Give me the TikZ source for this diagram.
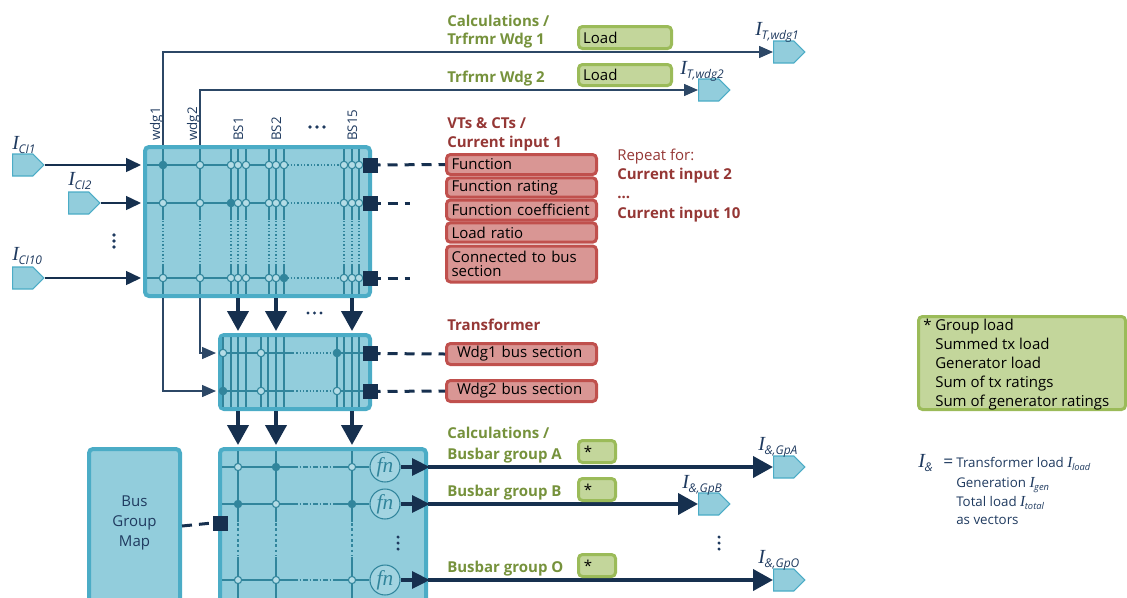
\documentclass[tikz,border=0pt]{standalone}
\usepackage{fontspec}
\setmainfont{Open Sans}
\newfontfamily\serifI{Liberation Serif}
\usetikzlibrary{arrows.meta,shapes.symbols}
\definecolor{navy}{HTML}{16304F}
\definecolor{thinc}{HTML}{2C4766}
\definecolor{boxfill}{HTML}{92CDDC}
\definecolor{boxedge}{HTML}{4BACC6}
\definecolor{gridc}{HTML}{31859C}
\definecolor{redfill}{HTML}{D99694}
\definecolor{rededge}{HTML}{C0504D}
\definecolor{redtext}{HTML}{953735}
\definecolor{grnfill}{HTML}{C3D69B}
\definecolor{grnedge}{HTML}{9BBB59}
\definecolor{grntext}{HTML}{76923C}
\definecolor{symc}{HTML}{1F3A5F}
\newcommand{\fmain}{\fontsize{11.25pt}{13.5pt}\selectfont}
\newcommand{\fsmall}{\fontsize{10pt}{12pt}\selectfont}
\newcommand{\fsym}{\fontsize{15pt}{16pt}\selectfont}
\newcommand{\Icur}[2][9pt]{{\serifI\itshape I}\kern-0.3pt\raisebox{-0.4ex}{\fontsize{#1}{#1}\selectfont\itshape #2}}
\begin{document}
\begin{tikzpicture}[x=0.75pt,y=-0.75pt,
  mbox/.style={draw=boxedge, fill=boxfill, line width=3pt, rounded corners=3pt, inner sep=0pt},
  redbox/.style={draw=rededge, fill=redfill, line width=2.25pt, rounded corners=3pt, inner xsep=3.75pt, inner ysep=0pt, text width=105pt, align=left, font=\fmain, text=black, minimum width=112.5pt},
  redbox2/.style={redbox, inner xsep=7.9pt, text width=96.7pt},
  grnbox/.style={draw=grnedge, fill=grnfill, line width=2.25pt, rounded corners=3pt, inner ysep=0pt, align=left, font=\fmain, text=black},
  lbl/.style={anchor=base west, inner sep=0pt, font=\fmain, text=black},
  hg/.style={lbl, font=\fmain\bfseries, text=grntext},
  hr/.style={lbl, font=\fmain\bfseries, text=redtext},
  isym/.style={anchor=base west, inner sep=0pt, font=\fsym, text=symc},
  rot/.style={anchor=base west, inner sep=0pt, rotate=90, font=\fsmall, text=symc},
  flag/.style={shape=signal, signal to=east, signal pointer angle=90, fill=boxfill, draw=boxedge, line width=0.8pt, inner sep=0pt, minimum width=23.5pt, minimum height=16.5pt},
  sq/.style={fill=navy, minimum size=11.25pt, inner sep=0pt},
  dsh/.style={navy, line width=2.25pt, dash pattern=on 7.5pt off 5.25pt},
  inarr/.style={navy, line width=1.1pt, -{Triangle[length=11.25pt,width=10.5pt]}, shorten >=1.5pt},
  tarr/.style={thinc, line width=1.1pt, -{Triangle[length=10.5pt,width=9pt]}},
  bigarr/.style={navy, line width=3pt, -{Triangle[length=15pt,width=15.75pt]}},
  midarr/.style={navy, line width=3pt, -{Triangle[length=13.5pt,width=12.5pt]}},
  gl/.style={gridc, line width=1.1pt},
  gl3/.style={gridc, line width=1.6pt},
  ocirc/.style={draw=gridc, fill=boxfill!70!white, line width=0.8pt},
  fnc/.style={circle, draw=gridc, fill=boxfill!85!white, line width=0.8pt, minimum size=22.5pt, inner sep=0pt, text=gridc, font=\serifI\itshape\fontsize{16pt}{16pt}\selectfont}
]
\path[use as bounding box] (0,0) rectangle (1127,597);
\clip (0,0) rectangle (1127,597);

% ---------- main boxes
\node[mbox, minimum width=168.75pt, minimum height=111.75pt] (box1) at (257.5,221.5) {};
\node[mbox, minimum width=112.5pt, minimum height=55.5pt] (box2) at (295,372) {};
\node[mbox, minimum width=154.5pt, minimum height=115.5pt] (box3) at (323,526) {};
\node[mbox, minimum width=68.25pt, minimum height=115.5pt] (bgm) at (134.5,526) {};
\node[align=center, font=\fontsize{11.25pt}{15pt}\selectfont, text=symc, inner sep=0pt] (bgmt) at (134.5,523) {Bus\\Group\\Map};

% ---------- grid of box 1
\begin{scope}[gl]
\foreach \y in {165,203,278}{
  \draw (147,\y) -- (284,\y);
  \draw[dash pattern=on 1pt off 1.5pt] (284,\y) -- (344,\y);
  \draw (344,\y) -- (368,\y);}
\foreach \x in {163,200,231,238,246,269,276,284,344,352,359}{
  \draw (\x,149) -- (\x,220);
  \draw[dash pattern=on 1pt off 1.5pt] (\x,221) -- (\x,264);
  \draw (\x,264) -- (\x,294);}
\end{scope}
\foreach \y in {165,203,278}{\foreach \x in {163,200,231,238,246,269,276,284,344,352,359}{
  \draw[ocirc] (\x,\y) circle[radius=2.8pt];}}
\fill[gridc] (163,165) circle[radius=2.9pt] (231,203) circle[radius=2.9pt] (284,278) circle[radius=2.9pt];

% ---------- grid of box 2
\begin{scope}[gl]
\foreach \y in {353,391}{
  \draw (222,\y) -- (293,\y);
  \draw[dash pattern=on 1pt off 1.5pt] (293,\y) -- (333,\y);
  \draw (333,\y) -- (368,\y);}
\foreach \x in {223,231,238,246,261,268,276,284,337,344,352,359}{
  \draw (\x,337) -- (\x,407);}
\end{scope}
\foreach \y in {353,391}{\foreach \x in {223,261,337}{
  \draw[ocirc] (\x,\y) circle[radius=2.8pt];}}
\fill[gridc] (337,353) circle[radius=2.9pt] (223,391) circle[radius=2.9pt];

% ---------- grid of box 3
\node[fnc] (fn1) at (385,467) {fn};
\node[fnc] (fn2) at (385,504) {fn};
\node[fnc] (fn3) at (385,580) {fn};
\begin{scope}[gl3]
\foreach \y/\f in {467/fn1,504/fn2,580/fn3}{
  \draw (222,\y) -- (293,\y);
  \draw[dash pattern=on 3.5pt off 1.5pt on 1pt off 1.5pt] (293,\y) -- (333,\y);
  \draw (333,\y) -- (\f.west);}
\foreach \x in {238,276,352}{
  \draw (\x,451) -- (\x,522);
  \draw[dash pattern=on 2pt off 2pt] (\x,523) -- (\x,556);
  \draw (\x,557) -- (\x,600);}
\end{scope}
\foreach \y in {467,504,580}{\foreach \x in {238,276,352}{
  \draw[ocirc] (\x,\y) circle[radius=2.7pt];}}
\fill[gridc] (276,467) circle[radius=2.9pt] (238,504) circle[radius=2.9pt] (352,504) circle[radius=2.9pt];

% ---------- flags
\node[flag, anchor=west] (fCI1) at (12,165) {};
\node[flag, anchor=west] (fCI2) at (68,203) {};
\node[flag, anchor=west] (fCI10) at (12,278) {};
\node[flag, anchor=west] (fT1) at (773,52) {};
\node[flag, anchor=west] (fT2) at (698,90) {};
\node[flag, anchor=west] (fA) at (773,467) {};
\node[flag, anchor=west] (fB) at (698,504) {};
\node[flag, anchor=west] (fO) at (773,580) {};

% ---------- flag labels
\node[isym] (lC1) at (12,149) {\Icur{CI1}};
\node[isym] (lC2) at (68,185) {\Icur{CI2}};
\node[isym] (lC10) at (12,260) {\Icur{CI10}};
\node[isym] (lT1) at (755,35) {\Icur{T,wdg1}};
\node[isym] (lT2) at (680,74) {\Icur{T,wdg2}};
\node[isym] (lA) at (758,450) {\Icur{\&,GpA}};
\node[isym] (lB) at (682,488) {\Icur{\&,GpB}};
\node[isym] (lO) at (758,563) {\Icur{\&,GpO}};

% ---------- rotated column labels
\node[rot] (rw1) at (160,141) {wdg1};
\node[rot] (rw2) at (197,141) {wdg2};
\node[rot] (rb1) at (243,141) {BS1};
\node[rot] (rb2) at (281,141) {BS2};
\node[rot] (rb15) at (357,141) {BS15};

% ---------- input arrows
\draw[inarr] (fCI1.east) -- (fCI1.east -| box1.west);
\draw[inarr] (fCI2.east) -- (fCI2.east -| box1.west);
\draw[inarr] (fCI10.east) -- (fCI10.east -| box1.west);

% ---------- winding connectors
\coordinate (w1) at (163,0);
\coordinate (w2) at (200,0);
\coordinate (b2r1) at (0,353);
\coordinate (b2r2) at (0,391);
\draw[tarr] (w1 |- box1.north) |- (fT1.west);
\draw[tarr] (w2 |- box1.north) |- (fT2.west);
\draw[tarr, shorten >=1.5pt] (w1 |- box1.south) |- (box2.west |- b2r2);
\draw[tarr, shorten >=1.5pt] (w2 |- box1.south) |- (box2.west |- b2r1);

% ---------- thick arrows between boxes
\coordinate (k1) at (238,0);
\coordinate (k2) at (276,0);
\coordinate (k3) at (352,0);
\foreach \k in {k1,k2,k3}{
  \draw[bigarr, shorten >=1.5pt] (\k |- box1.south) -- (\k |- box2.north);
  \draw[bigarr, shorten >=1.5pt] (\k |- box2.south) -- (\k |- box3.north);}

% ---------- output arrows
\foreach \f/\t in {fn1/fA,fn2/fB,fn3/fO}{
  \draw[midarr, shorten >=-1.5pt] (\f.east) -- (\f.east -| box3.east);
  \draw[bigarr] (\f.east -| box3.east) -- (\t.west);}

% ---------- red boxes
\node[redbox, minimum height=15pt] (fun) at (521.5,164.5) {Function};
\node[redbox, minimum height=14.6pt] (funr) at (521.5,187.5) {Function rating};
\node[redbox, minimum height=15pt] (func) at (521.5,210) {\mbox{Function coefficient}};
\node[redbox, minimum height=14.6pt] (lr) at (521.5,232.5) {Load ratio};
\node[redbox, minimum height=27pt, font=\fontsize{11.25pt}{10pt}\selectfont] (cbs) at (521.5,264) {Connected to bus\\section};
\node[redbox2, minimum height=15.75pt] (wb1) at (521.5,354) {Wdg1 bus section};
\node[redbox2, minimum height=15.75pt] (wb2) at (521.5,391) {Wdg2 bus section};

% ---------- green boxes
\node[grnbox, minimum width=69.75pt, minimum height=16.5pt, inner xsep=3.4pt, text width=62.9pt] (ld1) at (625,37.5) {Load};
\node[grnbox, minimum width=69.75pt, minimum height=15.75pt, inner xsep=3.4pt, text width=62.9pt] (ld2) at (625,75) {Load};
\node[grnbox, minimum width=27.75pt, minimum height=16.5pt, inner xsep=4pt, text width=19.75pt] (stA) at (597,451.5) {*};
\node[grnbox, minimum width=27.75pt, minimum height=16.5pt, inner xsep=4pt, text width=19.75pt] (stB) at (597,489.5) {*};
\node[grnbox, minimum width=27.75pt, minimum height=16.5pt, inner xsep=4pt, text width=19.75pt] (stO) at (597,565.5) {*};
\node[grnbox, minimum width=155.25pt, minimum height=69.75pt] (leg) at (1022,363) {};
\node[lbl] (lg1) at (923,330) {\makebox[9pt][l]{*}Group load};
\node[lbl] (lg2) at (935,349) {Summed tx load};
\node[lbl] (lg3) at (935,368) {Generator load};
\node[lbl] (lg4) at (935,387) {Sum of tx ratings};
\node[lbl] (lg5) at (935,406) {Sum of generator ratings};

% ---------- squares and dashed links
\coordinate (c1) at (370.5,165);
\coordinate (c2) at (370.5,203);
\coordinate (c3) at (370.5,278);
\coordinate (c4) at (370.5,353.5);
\coordinate (c5) at (370.5,391.5);
\coordinate (e2) at (410,203);
\coordinate (e3) at (410,278);
\draw[dsh] (c1) -- (fun.west);
\draw[dsh] (c2) -- (e2);
\draw[dsh] (c3) -- (e3);
\draw[dsh] (c4) -- (wb1.west);
\draw[dsh] (c5) -- (wb2.west);
\node[sq] (s1) at (c1) {};
\node[sq] (s2) at (c2) {};
\node[sq] (s3) at (c3) {};
\node[sq] (s4) at (c4) {};
\node[sq] (s5) at (c5) {};
\node[sq] (s6) at (220,523) {};
\draw[dsh] (bgm.east) -- (s6.west);

% ---------- headers
\node[hg] (h1a) at (447,26) {Calculations /};
\node[hg] (h1b) at (447,44) {Trfrmr Wdg 1};
\node[hg] (h2) at (447,82) {Trfrmr Wdg 2};
\node[hr] (h3a) at (447,128) {VTs \& CTs /};
\node[hr] (h3b) at (447,147) {Current input 1};
\node[hr] (h4) at (447,330) {Transformer};
\node[hg] (h5a) at (447,438) {Calculations /};
\node[hg] (h5b) at (447,459) {Busbar group A};
\node[hg] (h6) at (447,496) {Busbar group B};
\node[hg] (h7) at (447,572) {Busbar group O};
\node[lbl, text=redtext] (rp1) at (617,160) {Repeat for:};
\node[hr] (rp2) at (617,179) {Current input 2};
\node[hr] (rp3) at (617,198) {...};
\node[hr] (rp4) at (617,218) {Current input 10};

% ---------- I& legend
\node[isym] (ieq) at (918,467) {\Icur[9pt]{\&}};
\node[lbl, font=\fontsize{13pt}{14pt}\selectfont, text=symc] (eqs) at (943,467) {=};
\node[lbl, font=\fontsize{10pt}{12pt}\selectfont, text=symc] (q1) at (956,467) {Transformer load {\fontsize{11.5pt}{12pt}\selectfont\Icur[7pt]{load}}};
\node[lbl, font=\fontsize{10pt}{12pt}\selectfont, text=symc] (q2) at (956,487) {Generation {\fontsize{11.5pt}{12pt}\selectfont\Icur[7pt]{gen}}};
\node[lbl, font=\fontsize{10pt}{12pt}\selectfont, text=symc] (q3) at (956,506) {Total load {\fontsize{11.5pt}{12pt}\selectfont\Icur[7pt]{total}}};
\node[lbl, font=\fontsize{10pt}{12pt}\selectfont, text=symc] (q4) at (956,524) {as vectors};

% ---------- ellipsis dots
\foreach \x in {310,317,324}{\fill[symc] (\x,127) circle[radius=1.4pt];}
\foreach \x in {308,314.5,321}{\fill[symc] (\x,313) circle[radius=1.3pt];}
\foreach \y in {235,241,247}{\fill[symc] (114,\y) circle[radius=1.4pt];}
\foreach \y in {537,543,549}{\fill[symc] (398,\y) circle[radius=1.3pt];}
\foreach \y in {537,543,549}{\fill[symc] (719,\y) circle[radius=1.3pt];}
\end{tikzpicture}
\end{document}
